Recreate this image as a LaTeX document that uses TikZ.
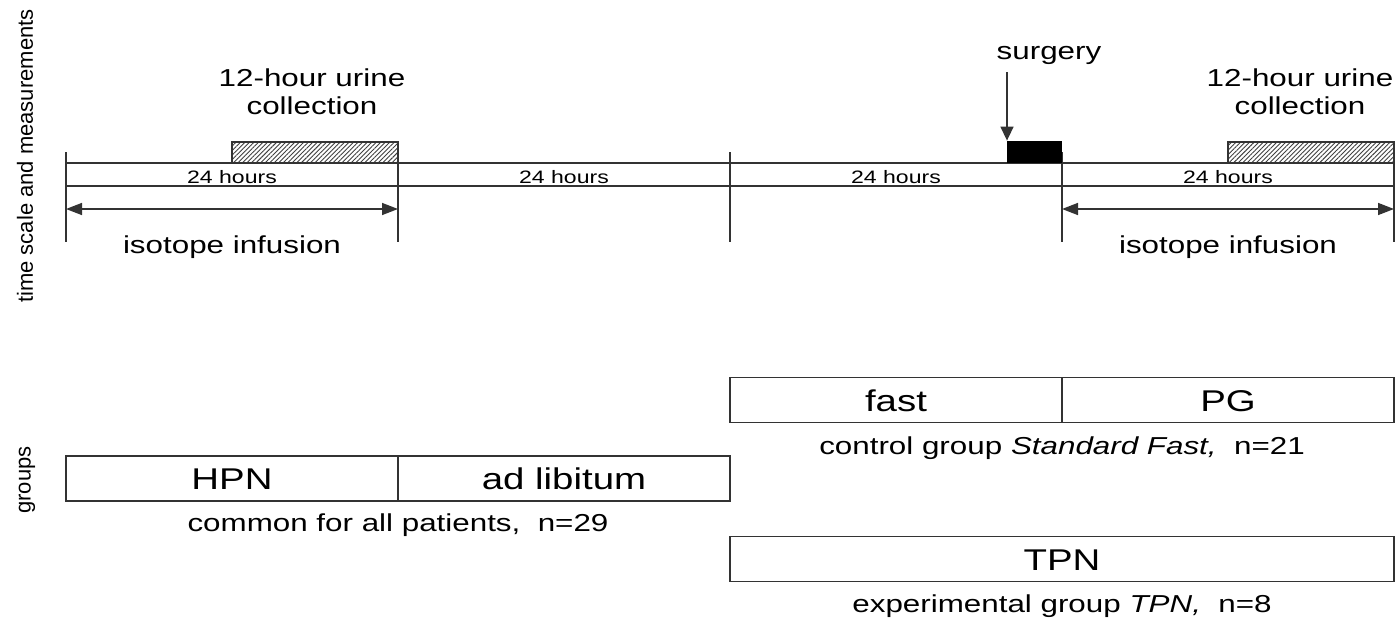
\documentclass[tikz,border=0pt]{standalone}
\usepackage{fontspec}
\setmainfont{Liberation Sans}[FakeStretch=1.28]
\newfontfamily\sidefont{Liberation Sans}
\usetikzlibrary{arrows.meta,patterns.meta,positioning}

\tikzset{
  tl/.style       = {line width=1.5pt, draw=black!80},
  hatchbox/.style = {tl, inner sep=0pt, outer sep=0pt,
                     pattern={Lines[angle=45,distance=3.2pt,line width=0.9pt]},
                     pattern color=black!75},
  dimarrow/.style = {tl, {Triangle[length=16pt,width=12pt]}-{Triangle[length=16pt,width=12pt]}},
  hourtext/.style = {inner sep=0pt, font=\fontsize{18}{21}\selectfont},
  midtext/.style  = {inner sep=0pt, align=center, font=\fontsize{24.5}{28}\selectfont},
  groupbox/.style = {tl, minimum height=45pt, inner sep=0pt, outer sep=0pt,
                     text height=22pt, text depth=0pt,
                     font=\fontsize{30}{34}\selectfont},
  sidetext/.style = {inner sep=0pt, rotate=90, font=\sidefont\fontsize{22}{26}\selectfont},
}

\begin{document}
\begin{tikzpicture}[x=1pt, y=-1pt, color=black]
\useasboundingbox (0,0) rectangle (1400,618);
\def\ya{163}
\def\yb{186}

  % side labels
  \node[sidetext] (scale)  at (25,156) {time scale and measurements};
  \node[sidetext] (groups) at (27,480) {groups};

  % time scale
  \draw[tl] (66,\ya) -- (1394,\ya)
            (66,\yb) -- (1394,\yb);
  \foreach \x [count=\i] in {66,398,730,1062,1394}{
    \draw[tl] (\x,152) -- (\x,242);
    \coordinate (m\i) at (\x,209);
  }
  \foreach \x in {232,564,896,1228}
    \node[hourtext] at (\x,177) {24 hours};

  % urine collection
  \node[hatchbox, minimum width=166pt, minimum height=21pt,
        anchor=south east] (urine1) at (398,\ya) {};
  \node[hatchbox, minimum width=166pt, minimum height=21pt,
        anchor=south east] (urine2) at (1394,\ya) {};
  \node[midtext] (urinetxt1) at (312,92) {12-hour urine\\collection};
  \node[midtext] (urinetxt2) at (1300,92) {12-hour urine\\collection};

  % surgery
  \node[fill=black, inner sep=0pt, minimum width=55pt, minimum height=22pt,
        anchor=south west] (op) at (1007,\ya) {};
  \node[midtext] (surgery) at (1049,55) {surgery};
  \draw[tl, -{Triangle[length=14pt,width=13pt]}]
    ([yshift=-8pt]surgery.south -| op.north west) -- (op.north west);

  % infusion
  \draw[dimarrow] (m1) -- (m2);
  \draw[dimarrow] (m4) -- (m5);
  \node[midtext] (inf1) at (232,247) {isotope infusion};
  \node[midtext] (inf2) at (1228,247) {isotope infusion};

  % groups
  \node[groupbox, minimum width=332pt] (fast) at (896,400) {fast};
  \node[groupbox, minimum width=332pt, right=0pt of fast] (pg) {PG};
  \node[midtext, below=14pt of fast.south east] (ctrl)
    {control group \textit{Standard Fast,}\ \ n=21};

  \node[groupbox, minimum width=332pt] (hpn) at (232,478.5) {HPN};
  \node[groupbox, minimum width=332pt, right=0pt of hpn] (adlib) {ad libitum};
  \node[midtext, below=13pt of hpn.south east] (common)
    {common for all patients,\ \ n=29};

  \node[groupbox, minimum width=664pt] (tpn) at (1062,559) {TPN};
  \node[midtext, below=13pt of tpn] (exper)
    {experimental group \textit{TPN,}\ \ n=8};
\end{tikzpicture}
\end{document}
